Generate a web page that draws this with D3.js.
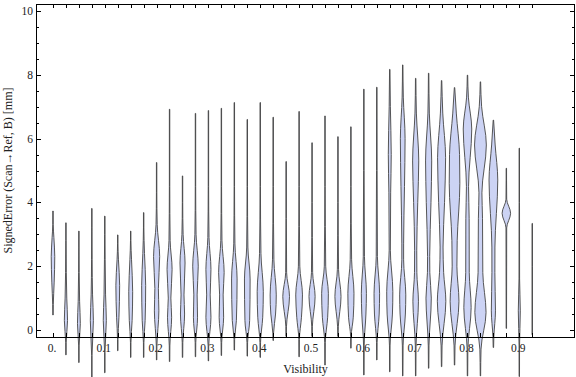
<!DOCTYPE html>
<html>
<head>
<meta charset="utf-8">
<script src="https://cdn.jsdelivr.net/npm/d3@7"></script>
<style>
  body { margin: 0; background: #fff; }
  svg { display: block; }
  text { font-family: "Liberation Serif", "DejaVu Serif", serif; fill: #222; }
</style>
</head>
<body>
<svg id="chart" width="576" height="377"></svg>
<script>
// visibility categories, one violin each
var categories = [0, 0.025, 0.05, 0.075, 0.1, 0.125, 0.15, 0.175, 0.2, 0.225,
  0.25, 0.275, 0.3, 0.325, 0.35, 0.375, 0.4, 0.425, 0.45, 0.475,
  0.5, 0.525, 0.55, 0.575, 0.6, 0.625, 0.65, 0.675, 0.7, 0.725,
  0.75, 0.775, 0.8, 0.825, 0.85, 0.875, 0.9, 0.925];

// smallest / largest signed error in each category [mm]
var mins = [0.47, -0.78, -1.02, -1.5, -1.34, -0.65, -0.86, -0.86, -0.94, -0.99,
  -0.86, -0.84, -0.97, -0.8, -0.63, -0.82, -0.86, -0.33, -0.2, -0.84,
  -0.2, -1.1, -0.2, -0.57, -1.41, -0.94, -1.31, -1.44, -1.44, -1.2,
  -1.15, -1.1, -1.44, -1.44, -0.55, 0.05, -1.46, -0.15];
var maxs = [3.73, 3.36, 3.10, 3.81, 3.57, 2.98, 3.10, 3.68, 5.25, 6.92,
  4.83, 6.79, 6.88, 6.95, 7.13, 6.6, 7.13, 6.67, 5.28, 6.85,
  5.87, 6.71, 6.06, 6.37, 7.55, 7.61, 8.17, 8.31, 7.89, 8.05,
  7.82, 7.6, 7.99, 7.78, 6.58, 5.07, 5.7, 3.34];

// relative density [value, density]
var densities = [
  [[0.8,0.05],[1.5,0.2],[2.3,0.3],[2.9,0.15],[3.3,0.04]],
  [[-0.4,0.04],[0.3,0.27],[1.0,0.14],[1.8,0.06],[2.8,0.03]],
  [[-0.5,0.04],[0.2,0.24],[0.9,0.12],[1.8,0.05],[2.6,0.03]],
  [[-0.8,0.03],[0.3,0.26],[1.1,0.12],[2.2,0.05],[3.2,0.03]],
  [[-0.7,0.03],[0.3,0.26],[1.1,0.13],[2.2,0.06],[3.0,0.03]],
  [[-0.3,0.04],[0.4,0.2],[1.4,0.32],[2.2,0.12],[2.7,0.03]],
  [[-0.4,0.04],[0.3,0.24],[1.2,0.33],[2.2,0.14],[2.8,0.03]],
  [[-0.4,0.04],[0.3,0.25],[1.4,0.34],[2.4,0.14],[3.2,0.03]],
  [[-0.5,0.05],[0.6,0.38],[1.3,0.3],[2.3,0.52],[3.3,0.1],[4.3,0.03]],
  [[-0.5,0.05],[0.4,0.35],[1.0,0.22],[1.9,0.43],[2.8,0.1],[4.5,0.03]],
  [[-0.4,0.05],[0.5,0.35],[1.1,0.25],[2.1,0.43],[3.0,0.1],[4.0,0.03]],
  [[-0.4,0.05],[0.4,0.35],[1.1,0.28],[2.0,0.47],[3.0,0.1],[4.5,0.03]],
  [[-0.5,0.05],[0.4,0.43],[1.1,0.3],[1.9,0.43],[2.9,0.1],[4.5,0.03]],
  [[-0.4,0.05],[0.4,0.38],[1.1,0.3],[1.8,0.47],[2.8,0.1],[4.5,0.03]],
  [[-0.3,0.05],[0.3,0.35],[1.6,0.47],[2.7,0.1],[4.5,0.03]],
  [[-0.4,0.05],[0.3,0.4],[1.6,0.48],[2.6,0.1],[4.5,0.03]],
  [[-0.4,0.05],[0.4,0.42],[1.2,0.52],[2.4,0.12],[4.5,0.03]],
  [[-0.1,0.06],[0.5,0.4],[1.1,0.52],[2.2,0.12],[4.5,0.03]],
  [[0.1,0.05],[1.05,0.57],[1.8,0.08],[3.5,0.03]],
  [[-0.3,0.05],[0.4,0.4],[1.1,0.57],[2.0,0.12],[4.5,0.03]],
  [[0.1,0.05],[1.05,0.52],[1.8,0.1],[4.0,0.03]],
  [[-0.4,0.05],[0.4,0.45],[1.15,0.57],[2.0,0.12],[4.5,0.03]],
  [[0.1,0.06],[1.05,0.52],[1.9,0.1],[4.0,0.03]],
  [[-0.2,0.05],[0.4,0.4],[1.15,0.52],[2.2,0.12],[4.5,0.03]],
  [[-0.5,0.05],[0.5,0.35],[1.15,0.43],[2.3,0.1],[5.0,0.04]],
  [[-0.4,0.05],[0.5,0.4],[1.15,0.47],[2.3,0.1],[5.0,0.05]],
  [[-0.5,0.05],[0.5,0.45],[1.2,0.52],[2.5,0.1],[4.3,0.15],[5.5,0.25],[7.0,0.1]],
  [[-0.5,0.06],[0.5,0.45],[1.1,0.52],[2.2,0.15],[2.7,0.15],[4.5,0.3],[6.0,0.4],[7.3,0.1]],
  [[-0.5,0.06],[0.9,0.47],[1.8,0.2],[2.5,0.18],[4.0,0.35],[5.3,0.52],[6.8,0.12]],
  [[-0.5,0.06],[1.0,0.45],[1.8,0.2],[2.3,0.18],[4.0,0.4],[5.3,0.52],[6.8,0.12]],
  [[-0.5,0.08],[0.9,0.72],[1.8,0.35],[2.6,0.25],[4.0,0.5],[5.4,0.68],[6.8,0.2]],
  [[-0.5,0.08],[0.9,0.75],[2.0,0.4],[2.8,0.45],[4.6,0.9],[5.5,0.85],[6.8,0.3]],
  [[-0.6,0.06],[0.7,0.62],[1.8,0.3],[3.5,0.28],[4.5,0.18],[6.3,0.72],[7.3,0.15]],
  [[-0.6,0.1],[0.55,0.95],[1.8,0.4],[3.5,0.35],[4.3,0.25],[5.8,1.0],[7.0,0.2]],
  [[-0.2,0.08],[0.6,0.35],[1.8,0.25],[2.6,0.26],[4.7,0.74],[5.8,0.3]],
  [[0.5,0.03],[3.2,0.06],[3.66,0.72],[4.1,0.06],[4.7,0.03]],
  [[-0.5,0.04],[0.6,0.17],[1.6,0.05],[4.0,0.03]],
  [[0.5,0.03],[2.0,0.03]]
];

var xTickValues = [0, 0.1, 0.2, 0.3, 0.4, 0.5, 0.6, 0.7, 0.8, 0.9];
var xTickLabels = ["0.", "0.1", "0.2", "0.3", "0.4", "0.5", "0.6", "0.7", "0.8", "0.9"];
var yTickValues = [0, 2, 4, 6, 8, 10];

(function() {
  var svg = d3.select("#chart"),
      left = 36, right = 575, plotTop = 4, plotBottom = 337;

  var x = d3.scaleLinear().domain([-0.0328, 1.0075]).range([left, right]);
  var y = d3.scaleLinear().domain([-0.22, 10.22]).range([plotBottom, plotTop]);
  var w = d3.scaleLinear().domain([0, 1]).range([0, 5.9]);

  var minorY = d3.range(0, 10.01, 0.5).filter(function(v) { return v % 2 !== 0; });

  // violins
  var violins = svg.append("g");
  categories.forEach(function(c, i) {
    var pts = [[mins[i], 0]].concat(densities[i], [[maxs[i], 0]]);
    var cx = x(c);
    var area = d3.area()
        .y(function(d) { return y(d[0]); })
        .x0(function(d) { return cx - Math.max(w(d[1]), 0.2); })
        .x1(function(d) { return cx + Math.max(w(d[1]), 0.2); })
        .curve(d3.curveMonotoneY);
    violins.append("path")
        .attr("d", area(pts))
        .attr("fill", "#ccd3f4")
        .attr("stroke", "#444")
        .attr("stroke-width", 0.9);
  });

  // frame
  var frame = svg.append("g").attr("stroke", "#000").attr("stroke-width", 1).attr("fill", "none");
  frame.append("rect")
      .attr("x", left + 0.5).attr("y", plotTop + 0.5)
      .attr("width", right - left - 1).attr("height", plotBottom - plotTop);

  // x ticks at each category, bottom and top
  categories.forEach(function(c) {
    var px = Math.round(x(c)) + 0.5;
    frame.append("line").attr("x1", px).attr("x2", px).attr("y1", plotBottom).attr("y2", plotBottom - 4);
    frame.append("line").attr("x1", px).attr("x2", px).attr("y1", plotTop).attr("y2", plotTop + 4);
  });

  // y ticks, left and right
  yTickValues.forEach(function(v) {
    var py = Math.round(y(v)) + 0.5;
    frame.append("line").attr("x1", left).attr("x2", left + 5).attr("y1", py).attr("y2", py);
    frame.append("line").attr("x1", right).attr("x2", right - 5).attr("y1", py).attr("y2", py);
  });
  minorY.forEach(function(v) {
    var py = Math.round(y(v)) + 0.5;
    frame.append("line").attr("x1", left).attr("x2", left + 3).attr("y1", py).attr("y2", py);
    frame.append("line").attr("x1", right).attr("x2", right - 3).attr("y1", py).attr("y2", py);
  });

  // tick labels
  svg.append("g").selectAll("text")
      .data(yTickValues)
    .join("text")
      .attr("x", 33)
      .attr("y", function(d) { return y(d); })
      .attr("dy", "0.35em")
      .attr("text-anchor", "end")
      .attr("font-size", 11.5)
      .text(function(d) { return d; });

  svg.append("g").selectAll("text")
      .data(xTickValues)
    .join("text")
      .attr("x", function(d) { return x(d) - 1; })
      .attr("y", 352)
      .attr("text-anchor", "middle")
      .attr("font-size", 11.5)
      .text(function(d, i) { return xTickLabels[i]; });

  // axis titles
  svg.append("text")
      .attr("x", (left + right) / 2)
      .attr("y", 373)
      .attr("text-anchor", "middle")
      .attr("font-size", 12)
      .text("Visibility");

  svg.append("text")
      .attr("transform", "translate(12," + ((plotTop + plotBottom) / 2) + ") rotate(-90)")
      .attr("text-anchor", "middle")
      .attr("font-size", 12)
      .text("SignedError (Scan\u2192Ref, B) [mm]");
})();
</script>
</body>
</html>
